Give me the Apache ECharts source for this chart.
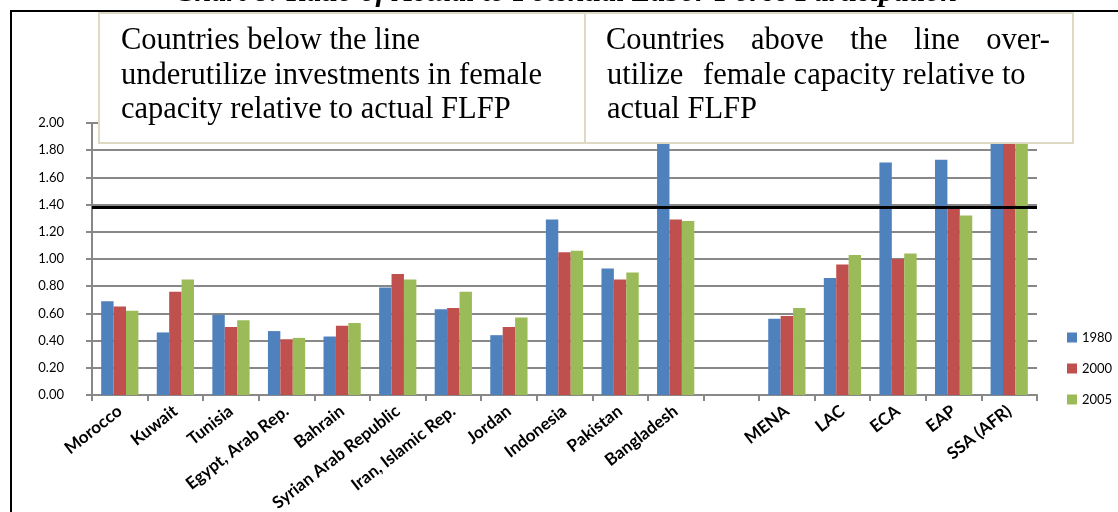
<!DOCTYPE html>
<html>
<head>
<meta charset="utf-8">
<script src="https://cdn.jsdelivr.net/npm/echarts@6/dist/echarts.min.js"></script>
<style>
  html, body { margin: 0; padding: 0; background: #fff; }
  #chart { width: 1118px; height: 512px; }
</style>
</head>
<body>
<div id="chart"></div>
<script>
// Ratio of actual to potential female labour force participation
const categories = ['Morocco', 'Kuwait', 'Tunisia', 'Egypt, Arab Rep.', 'Bahrain',
  'Syrian Arab Republic', 'Iran, Islamic Rep.', 'Jordan', 'Indonesia', 'Pakistan',
  'Bangladesh', '', 'MENA', 'LAC', 'ECA', 'EAP', 'SSA (AFR)'];
const years = ['1980', '2000', '2005'];
const ratio1980 = [0.69, 0.46, 0.59, 0.47, 0.43, 0.79, 0.63, 0.44, 1.29, 0.93, 2.10, null, 0.56, 0.86, 1.71, 1.73, 2.30];
const ratio2000 = [0.65, 0.76, 0.50, 0.41, 0.51, 0.89, 0.64, 0.50, 1.05, 0.85, 1.29, null, 0.58, 0.96, 1.00, 1.38, 2.10];
const ratio2005 = [0.62, 0.85, 0.55, 0.42, 0.53, 0.85, 0.76, 0.57, 1.06, 0.90, 1.28, null, 0.64, 1.03, 1.04, 1.32, 2.05];
const parityLine = 1.38;
const yMin = 0, yMax = 2, yStep = 0.2;

const titleText = 'Chart 8: Ratio of Actual to Potential Labor Force Participation';
const leftNote = ['Countries below the line', 'underutilize investments in female', 'capacity relative to actual FLFP'];

const colors = ['#4f81bd', '#c0504d', '#9bbb59'];
const serif = '"Liberation Serif", "Times New Roman", serif';
const sans = 'Lato, "Noto Sans", sans-serif';
const noteFont = '30.5px ' + serif;

const chart = echarts.init(document.getElementById('chart'));

// measure helper for justified note lines
const measureCtx = document.createElement('canvas').getContext('2d');
function textWidth(s, font) { measureCtx.font = font; return measureCtx.measureText(s).width; }

function noteText(x, y, text) {
  return { type: 'text', x: x, y: y, z: 21,
    style: { text: text, font: noteFont, fill: '#000', textVerticalAlign: 'middle', verticalAlign: 'middle' } };
}

// spread the words of one line evenly between left and right
function justifiedLine(words, left, right, y) {
  const widths = words.map(w => textWidth(w, noteFont));
  const total = widths.reduce((a, b) => a + b, 0);
  const gap = (right - left - total) / (words.length - 1);
  const out = [];
  let x = left;
  words.forEach((w, i) => { out.push(noteText(x, y, w)); x += widths[i] + gap; });
  return out;
}

const lineMids = [41, 76, 110];
const graphics = [];
// chart title, partly above the frame
graphics.push({ type: 'text', x: 566, y: -7, z: 19,
  style: { text: titleText, font: 'italic bold 30px ' + serif, fill: '#000',
    textAlign: 'center', align: 'center', textVerticalAlign: 'middle', verticalAlign: 'middle' } });
// outer frame
graphics.push({ type: 'polyline', z: 20, shape: { points: [[11, 512], [11, 11], [1118, 11]] },
  style: { stroke: '#000', lineWidth: 2, fill: null } });
// note boxes
graphics.push({ type: 'rect', z: 20, shape: { x: 99, y: 13, width: 486, height: 130 },
  style: { fill: '#fff', stroke: '#ddd9c3', lineWidth: 2 } });
graphics.push({ type: 'rect', z: 20, shape: { x: 585, y: 13, width: 488, height: 130 },
  style: { fill: '#fff', stroke: '#ddd9c3', lineWidth: 2 } });
leftNote.forEach((t, i) => graphics.push(noteText(121, lineMids[i], t)));
justifiedLine(['Countries', 'above', 'the', 'line', 'over-'], 606, 1050, lineMids[0]).forEach(g => graphics.push(g));
graphics.push(noteText(607, lineMids[1], 'utilize'));
graphics.push(noteText(703, lineMids[1], 'female capacity relative to'));
graphics.push(noteText(607, lineMids[2], 'actual FLFP'));

const series = [ratio1980, ratio2000, ratio2005].map((d, i) => ({
  name: years[i],
  type: 'bar',
  data: d,
  barGap: '0%',
  barCategoryGap: '33%',
  clip: true,
  itemStyle: { color: colors[i] },
  emphasis: { disabled: true }
}));
series[2].markLine = {
  silent: true,
  symbol: 'none',
  z: 10,
  label: { show: false },
  lineStyle: { color: '#000', width: 3, type: 'solid' },
  data: [{ yAxis: parityLine }]
};

chart.setOption({
  backgroundColor: '#fff',
  animation: false,
  grid: { left: 92, right: 81, top: 123, bottom: 117, containLabel: false, outerBoundsMode: 'none' },
  legend: {
    data: years,
    orient: 'vertical',
    left: 1062,
    top: 326,
    itemWidth: 10,
    itemHeight: 10,
    itemGap: 18,
    icon: 'rect',
    textStyle: { fontFamily: sans, fontSize: 13, color: '#000' }
  },
  xAxis: {
    type: 'category',
    data: categories,
    axisLine: { lineStyle: { color: '#888', width: 2 } },
    axisTick: { show: true, length: 6, lineStyle: { color: '#888', width: 2 } },
    axisLabel: {
      interval: 0, rotate: 38, margin: 14,
      fontFamily: sans, fontSize: 17, fontWeight: 'bold', color: '#000'
    },
    splitLine: { show: false }
  },
  yAxis: {
    type: 'value',
    min: yMin, max: yMax, interval: yStep,
    axisLine: { show: true, lineStyle: { color: '#888', width: 2 } },
    axisTick: { show: true, length: 6, lineStyle: { color: '#888', width: 2 } },
    axisLabel: {
      margin: 28, fontFamily: sans, fontSize: 13, color: '#000',
      formatter: v => v.toFixed(2)
    },
    splitLine: { show: true, lineStyle: { color: '#888', width: 2 } }
  },
  series: series,
  graphic: graphics
});
</script>
</body>
</html>
